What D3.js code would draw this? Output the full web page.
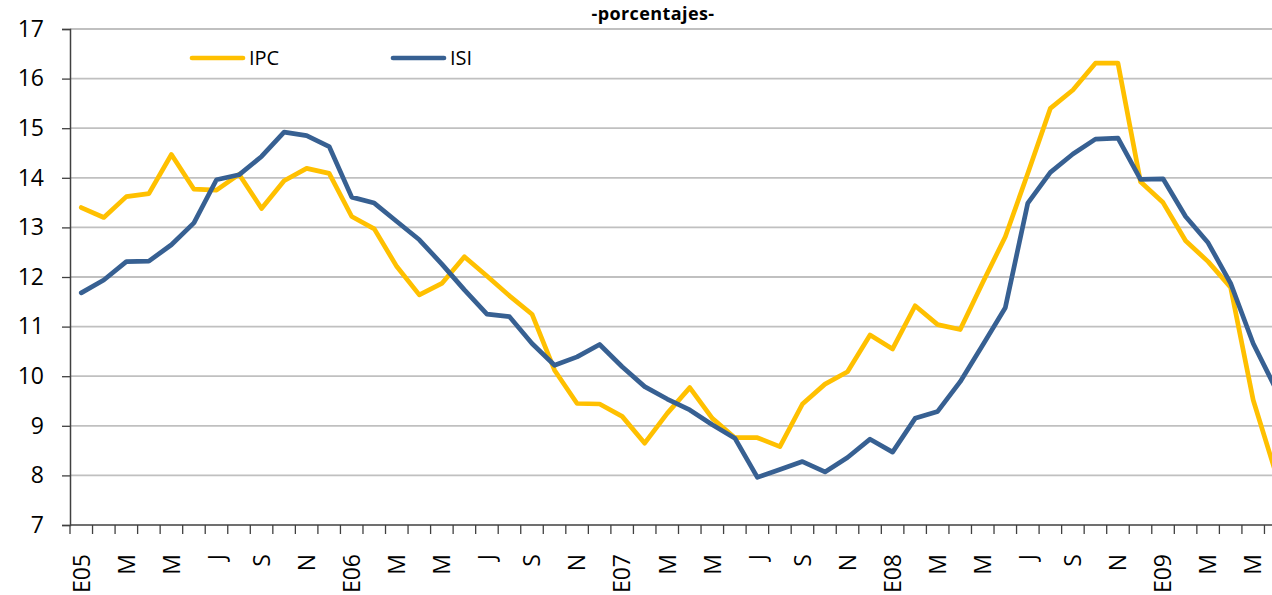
<!DOCTYPE html>
<html>
<head>
<meta charset="utf-8">
<script src="https://cdn.jsdelivr.net/npm/d3@7"></script>
<style>
  html, body { margin: 0; padding: 0; background: #fff; overflow: hidden; }
  svg { display: block; font-family: "Open Sans", "Liberation Sans", sans-serif; }
</style>
</head>
<body>
<svg id="chart" width="1272" height="595"></svg>
<script>
// Monthly categories, Jan 2005 - Jun 2009
const months = [
  "E05","F","M","A","M","J","J","A","S","O","N","D",
  "E06","F","M","A","M","J","J","A","S","O","N","D",
  "E07","F","M","A","M","J","J","A","S","O","N","D",
  "E08","F","M","A","M","J","J","A","S","O","N","D",
  "E09","F","M","A","M","J"
];

// IPC series (%)
const ipc = [
  13.40, 13.20, 13.62, 13.68, 14.47, 13.77, 13.75, 14.07, 13.38, 13.94, 14.19, 14.09,
  13.22, 12.97, 12.21, 11.64, 11.87, 12.41, 12.02, 11.62, 11.25, 10.12, 9.45, 9.44,
  9.19, 8.65, 9.25, 9.77, 9.15, 8.76, 8.76, 8.58, 9.44, 9.84, 10.09, 10.83,
  10.55, 11.42, 11.04, 10.94, 11.89, 12.81, 14.09, 15.40, 15.77, 16.31, 16.31, 13.92,
  13.50, 12.73, 12.31, 11.79, 9.52, 8.05
];

// ISI series (%)
const isi = [
  11.68, 11.94, 12.31, 12.32, 12.65, 13.09, 13.96, 14.06, 14.43, 14.92, 14.85, 14.63,
  13.61, 13.49, 13.12, 12.75, 12.26, 11.74, 11.25, 11.20, 10.66, 10.22, 10.39, 10.64,
  10.19, 9.79, 9.54, 9.32, 9.02, 8.75, 7.96, 8.12, 8.28, 8.07, 8.36, 8.73,
  8.47, 9.15, 9.29, 9.89, 10.63, 11.38, 13.49, 14.11, 14.48, 14.78, 14.80, 13.97,
  13.98, 13.22, 12.69, 11.87, 10.66, 9.75
];

const yTicks = [7, 8, 9, 10, 11, 12, 13, 14, 15, 16, 17];
const seriesNames = ["IPC", "ISI"];
const colors = { IPC: "#FFC000", ISI: "#376092" };

const svg = d3.select("#chart");
const plotLeft = 70, plotRight = 1287, plotTop = 29, plotBottom = 525;

const idx = d3.range(months.length);
const x = d3.scaleBand().domain(idx).range([plotLeft, plotRight]).padding(0);
const y = d3.scaleLinear().domain([7, 17]).range([plotBottom, plotTop]);
const cx = i => x(i) + x.bandwidth() / 2;

// horizontal gridlines
svg.append("g")
  .selectAll("line")
  .data(yTicks.filter(t => t > 7))
  .join("line")
  .attr("x1", plotLeft).attr("x2", plotRight)
  .attr("y1", d => y(d)).attr("y2", d => y(d))
  .attr("stroke", "#c0c0c0")
  .attr("stroke-width", 1.8);

// y axis
const yAxis = svg.append("g")
  .attr("transform", `translate(${plotLeft},0)`)
  .call(d3.axisLeft(y).tickValues(yTicks).tickSize(8).tickPadding(18).tickFormat(d3.format("d")));
yAxis.select(".domain").attr("stroke", "#404040").attr("stroke-width", 1.5);
yAxis.selectAll(".tick line").attr("stroke", "#404040").attr("stroke-width", 1.3);
yAxis.selectAll("text").attr("font-size", 23).attr("fill", "#000")
  .attr("font-family", "'Open Sans', sans-serif");

// x axis: tick marks on month boundaries, labels every other month
const xg = svg.append("g").attr("transform", `translate(0,${plotBottom})`);
xg.append("line").attr("x1", plotLeft).attr("x2", plotRight).attr("y1", 0).attr("y2", 0)
  .attr("stroke", "#404040").attr("stroke-width", 1.5);
xg.selectAll("line.tk")
  .data(idx.concat([months.length]))
  .join("line")
  .attr("class", "tk")
  .attr("x1", d => d < months.length ? x(d) : plotRight)
  .attr("x2", d => d < months.length ? x(d) : plotRight)
  .attr("y1", 0).attr("y2", 9)
  .attr("stroke", "#404040").attr("stroke-width", 1.3);

xg.selectAll("text")
  .data(idx.filter(i => i % 2 === 0))
  .join("text")
  .attr("transform", i => `translate(${cx(i)},29) rotate(-90)`)
  .attr("text-anchor", "end")
  .attr("dy", "0.36em")
  .attr("font-size", 23)
  .attr("fill", "#000")
  .text(i => months[i]);

// series lines
const line = arr => d3.line()
  .x((d, i) => cx(i))
  .y(d => y(d))(arr);

svg.append("path")
  .attr("d", line(ipc))
  .attr("fill", "none")
  .attr("stroke", colors.IPC)
  .attr("stroke-width", 4.7)
  .attr("stroke-linejoin", "round")
  .attr("stroke-linecap", "round");

svg.append("path")
  .attr("d", line(isi))
  .attr("fill", "none")
  .attr("stroke", colors.ISI)
  .attr("stroke-width", 4.7)
  .attr("stroke-linejoin", "round")
  .attr("stroke-linecap", "round");

// title
svg.append("text")
  .attr("x", 653).attr("y", 20)
  .attr("text-anchor", "middle")
  .attr("font-size", 18)
  .attr("font-weight", "bold")
  .attr("letter-spacing", "0.4")
  .attr("fill", "#000")
  .text("-porcentajes-");

// legend
const legendPos = [192, 393];
const lg = svg.append("g").selectAll("g")
  .data(seriesNames)
  .join("g")
  .attr("transform", (d, i) => `translate(${legendPos[i]},58)`);
lg.append("line")
  .attr("x1", 0).attr("x2", 51)
  .attr("stroke", d => colors[d])
  .attr("stroke-width", 4.7)
  .attr("stroke-linecap", "round");
lg.append("text")
  .attr("x", 57).attr("y", 0)
  .attr("dy", "0.36em")
  .attr("font-size", 20)
  .attr("fill", "#000")
  .text(d => d);
</script>
</body>
</html>
